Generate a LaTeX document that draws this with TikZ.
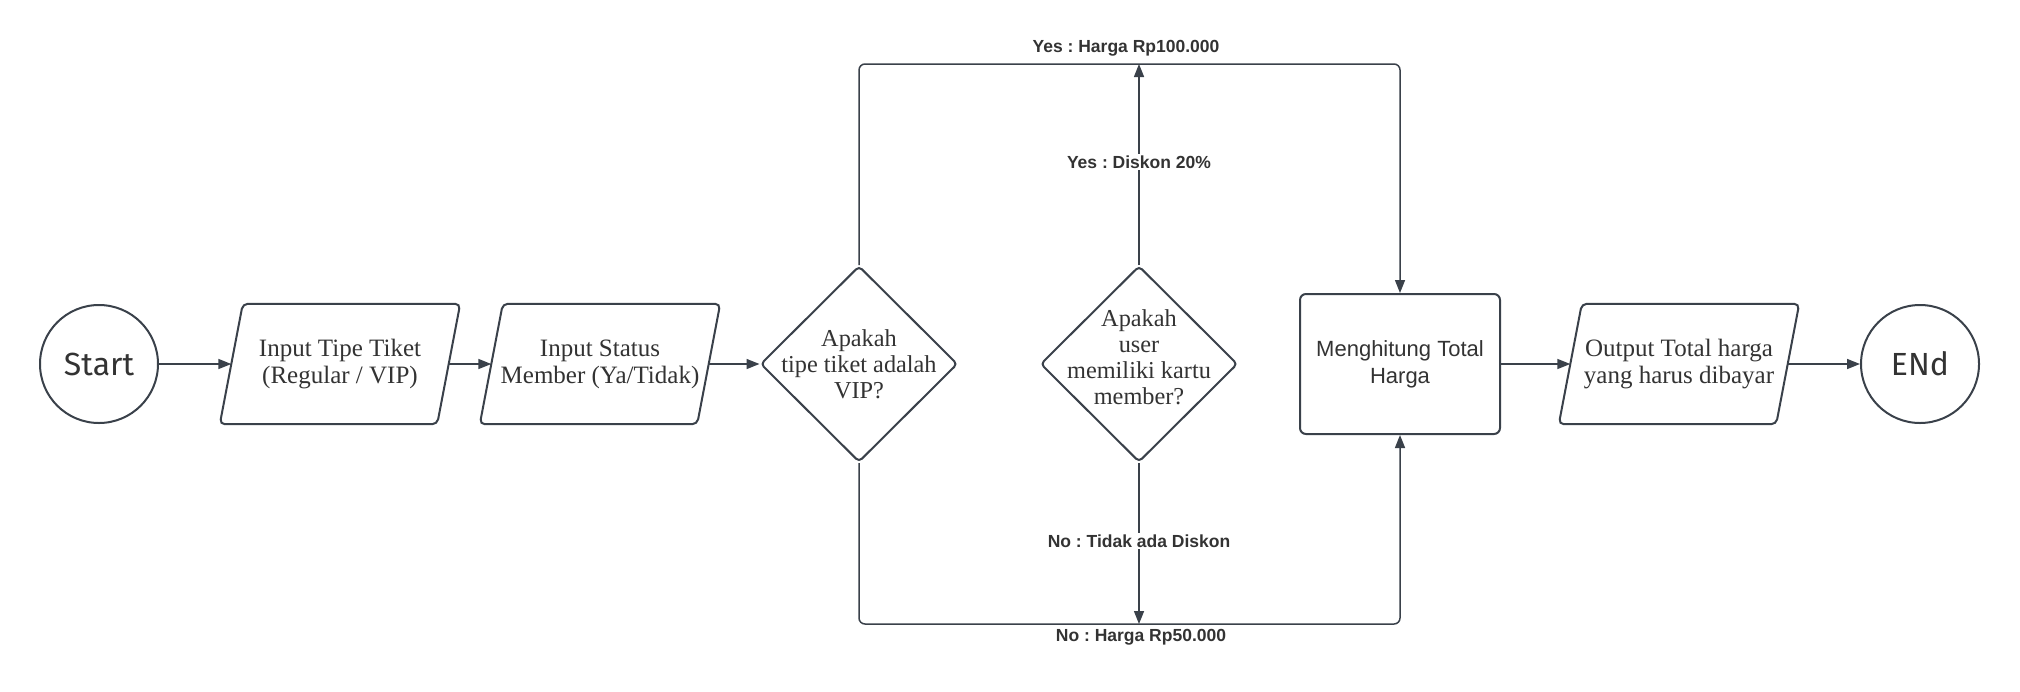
\documentclass[tikz,border=0pt]{standalone}
\usepackage{fontspec}
\setmainfont{Liberation Serif}
\newfontfamily\labfont{Liberation Sans}
\newfontfamily\termfont{Fira Sans}
\usetikzlibrary{shapes.geometric,arrows.meta}
\definecolor{ln}{HTML}{3A414A}
\definecolor{tx}{HTML}{333333}
\begin{document}
\frenchspacing
\begin{tikzpicture}[x=1pt,y=-1pt,
  every node/.style={text=tx},
  termbox/.style={circle,draw=ln,line width=2pt,minimum size=118pt,inner sep=0pt,font=\termfont\fontsize{32}{32}\selectfont},
  iobox/.style={rectangle,minimum width=240pt,minimum height=120pt,align=center,inner sep=0pt,font=\fontsize{25}{27}\selectfont},
  ioline/.style={draw=ln,line width=2pt,rounded corners=5pt},
  diabox/.style={diamond,draw=ln,line width=2pt,minimum width=197pt,minimum height=196pt,inner sep=0pt,rounded corners=4pt},
  diatext/.style={align=center,inner sep=0pt,font=\fontsize{24.3}{26}\selectfont},
  procbox/.style={rectangle,draw=ln,line width=2pt,rounded corners=6pt,minimum width=200pt,minimum height=140pt,align=center,inner sep=0pt,font=\labfont\fontsize{22}{27}\selectfont},
  conn/.style={draw=ln,line width=1.5pt,-{Triangle[length=13pt,width=10pt]}},
  lbl/.style={font=\labfont\bfseries\frenchspacing\fontsize{17.5}{19}\selectfont,inner sep=2pt},
  lblw/.style={lbl,fill=white}
]
\fill[white] (0,0) rectangle (2020,691);
\useasboundingbox (0,0) rectangle (2020,691);
\coordinate (top) at (0,64);
\coordinate (bot) at (0,624);

\node[termbox] (start) at (99,364) {Start};
\node[iobox] (in1) at (340,364) {Input Tipe Tiket\\(Regular / VIP)};
\node[iobox] (in2) at (600,364) {Input Status\\Member (Ya/Tidak)};
\node[diabox] (d1) at (859,364) {};
\node[diatext] (d1t) at (859,364) {Apakah\\tipe tiket adalah\\VIP?};
\node[diabox] (d2) at (1139,364) {};
\node[diatext] (d2t) at (1139,357) {Apakah\\user\\memiliki kartu\\member?};
\node[procbox] (calc) at (1400,364) {Menghitung Total\\Harga};
\node[iobox] (out) at (1679,364) {Output Total harga\\yang harus dibayar};
\node[termbox] (end) at (1920,364) {ENd};

\foreach \n in {in1,in2,out}{
  \draw[ioline] (\n.south west) -- ([xshift=23pt]\n.north west) -- (\n.north east) -- ([xshift=-23pt]\n.south east) -- cycle;
}

\draw[conn] (start.east) -- ([xshift=11.5pt]in1.west);
\draw[conn] ([xshift=-11.5pt]in1.east) -- ([xshift=11.5pt]in2.west);
\draw[conn] ([xshift=-11.5pt]in2.east) -- (d1.west);
\draw[conn] (calc.east) -- ([xshift=11.5pt]out.west);
\draw[conn] ([xshift=-11.5pt]out.east) -- (end.west);

\draw[conn,rounded corners=6pt] (d1.north) -- (d1.north |- top) -- (calc.north |- top) -- (calc.north);
\draw[conn,rounded corners=6pt] (d1.south) -- (d1.south |- bot) -- (calc.south |- bot) -- (calc.south);
\draw[conn] (d2.north) -- (d2.north |- top);
\draw[conn] (d2.south) -- (d2.south |- bot);

\node[lbl] (l1) at (1126,48) {Yes : Harga Rp100.000};
\node[lblw] (l2) at (1139,162) {Yes : Diskon 20\%};
\node[lblw] (l3) at (1139,541) {No : Tidak ada Diskon};
\node[lbl] (l4) at (1141,637) {No : Harga Rp50.000};
\end{tikzpicture}
\end{document}
